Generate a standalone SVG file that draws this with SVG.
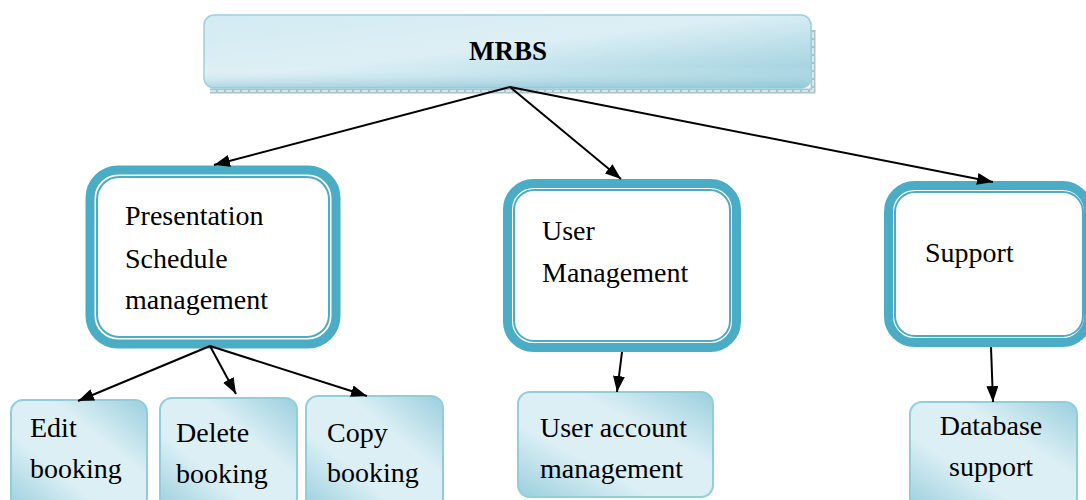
<svg xmlns="http://www.w3.org/2000/svg" width="1086" height="500" viewBox="0 0 1086 500">
<defs>
<style>
.t{font-family:"Liberation Serif","Times New Roman",serif;font-size:28px;fill:#000}
.b{font-weight:bold;font-size:27px}
.outer{fill:#fff;stroke:#4BACC6;stroke-width:9}
.inner{fill:none;stroke:#4BACC6;stroke-width:2}
.leaf{fill:url(#lg);stroke:#92CDDC;stroke-width:2}
.conn{stroke:#000;stroke-width:2;fill:none;marker-end:url(#ah)}
</style>
<linearGradient id="lg" x1="0" y1="1" x2="1" y2="0">
<stop offset="0" stop-color="#9ACFDD"/>
<stop offset="0.35" stop-color="#DCEFF5"/>
<stop offset="0.65" stop-color="#DCEFF5"/>
<stop offset="1" stop-color="#9ACFDD"/>
</linearGradient>
<linearGradient id="tg" x1="0" y1="0" x2="1" y2="1">
<stop offset="0" stop-color="#D2EBF2"/>
<stop offset="0.45" stop-color="#DDEFF5"/>
<stop offset="1" stop-color="#92CBDA"/>
</linearGradient>
<linearGradient id="tg2" x1="0" y1="0" x2="0" y2="1">
<stop offset="0" stop-color="#fff" stop-opacity="0"/>
<stop offset="0.7" stop-color="#fff" stop-opacity="0"/>
<stop offset="1" stop-color="#8CC5D5" stop-opacity="0.6"/>
</linearGradient>
<marker id="ah" viewBox="0 0 16 12" refX="16" refY="6" markerWidth="16" markerHeight="12" markerUnits="userSpaceOnUse" orient="auto">
<path d="M0,0 L16,6 L0,12 Z" fill="#000"/>
</marker>
</defs>
<rect width="1086" height="500" fill="#fff"/>

<g id="mrbs">
<path d="M210,91 H813 V30" fill="none" stroke="#A9C4CC" stroke-width="5"/>
<path d="M210,91 H813 V30" fill="none" stroke="#D6E6EA" stroke-width="2" stroke-dasharray="6 2"/>
<rect x="204" y="15" width="607" height="73" rx="10" fill="url(#tg)" stroke="#9CCFDD" stroke-width="1.5"/>
<rect x="204" y="15" width="607" height="73" rx="10" fill="url(#tg2)"/>
<text class="t b" x="508" y="60" text-anchor="middle">MRBS</text>
</g>

<g id="presentation">
<rect class="outer" x="90" y="170" width="246" height="174" rx="28"/>
<rect class="inner" x="97" y="177" width="232" height="160" rx="22"/>
<text class="t" x="125" y="225">Presentation</text>
<text class="t" x="125" y="268">Schedule</text>
<text class="t" x="125" y="309">management</text>
</g>

<g id="usermgmt">
<rect class="outer" x="507.5" y="183.5" width="229" height="164" rx="26"/>
<rect class="inner" x="514" y="190" width="216" height="151" rx="20"/>
<text class="t" x="542" y="240">User</text>
<text class="t" x="542" y="282">Management</text>
</g>

<g id="support">
<rect class="outer" x="888.5" y="185.5" width="200" height="157" rx="26"/>
<rect class="inner" x="895" y="192" width="188" height="144" rx="20"/>
<text class="t" x="925" y="262">Support</text>
</g>

<g id="edit">
<rect class="leaf" x="11" y="400" width="136" height="110" rx="12"/>
<text class="t" x="30" y="437">Edit</text>
<text class="t" x="30" y="478">booking</text>
</g>
<g id="delete">
<rect class="leaf" x="160" y="398" width="137" height="112" rx="12"/>
<text class="t" x="176" y="442">Delete</text>
<text class="t" x="176" y="483">booking</text>
</g>
<g id="copy">
<rect class="leaf" x="306" y="396" width="137" height="114" rx="12"/>
<text class="t" x="327" y="442">Copy</text>
<text class="t" x="327" y="482">booking</text>
</g>
<g id="useraccount">
<rect class="leaf" x="518" y="392" width="195" height="105" rx="12"/>
<text class="t" x="540" y="437">User account</text>
<text class="t" x="540" y="478">management</text>
</g>
<g id="database">
<rect class="leaf" x="910" y="402" width="167" height="108" rx="12"/>
<text class="t" x="991" y="435" text-anchor="middle">Database</text>
<text class="t" x="991" y="476" text-anchor="middle">support</text>
</g>

<g id="connectors">
<line class="conn" x1="510" y1="87" x2="214" y2="165"/>
<line class="conn" x1="510" y1="87" x2="621" y2="179"/>
<line class="conn" x1="510" y1="87" x2="993" y2="182"/>
<line class="conn" x1="210" y1="346" x2="78" y2="401"/>
<line class="conn" x1="210" y1="346" x2="236" y2="394"/>
<line class="conn" x1="210" y1="346" x2="367" y2="396"/>
<line class="conn" x1="622" y1="352" x2="617" y2="392"/>
<line class="conn" x1="991" y1="347" x2="993" y2="402"/>
</g>
</svg>
